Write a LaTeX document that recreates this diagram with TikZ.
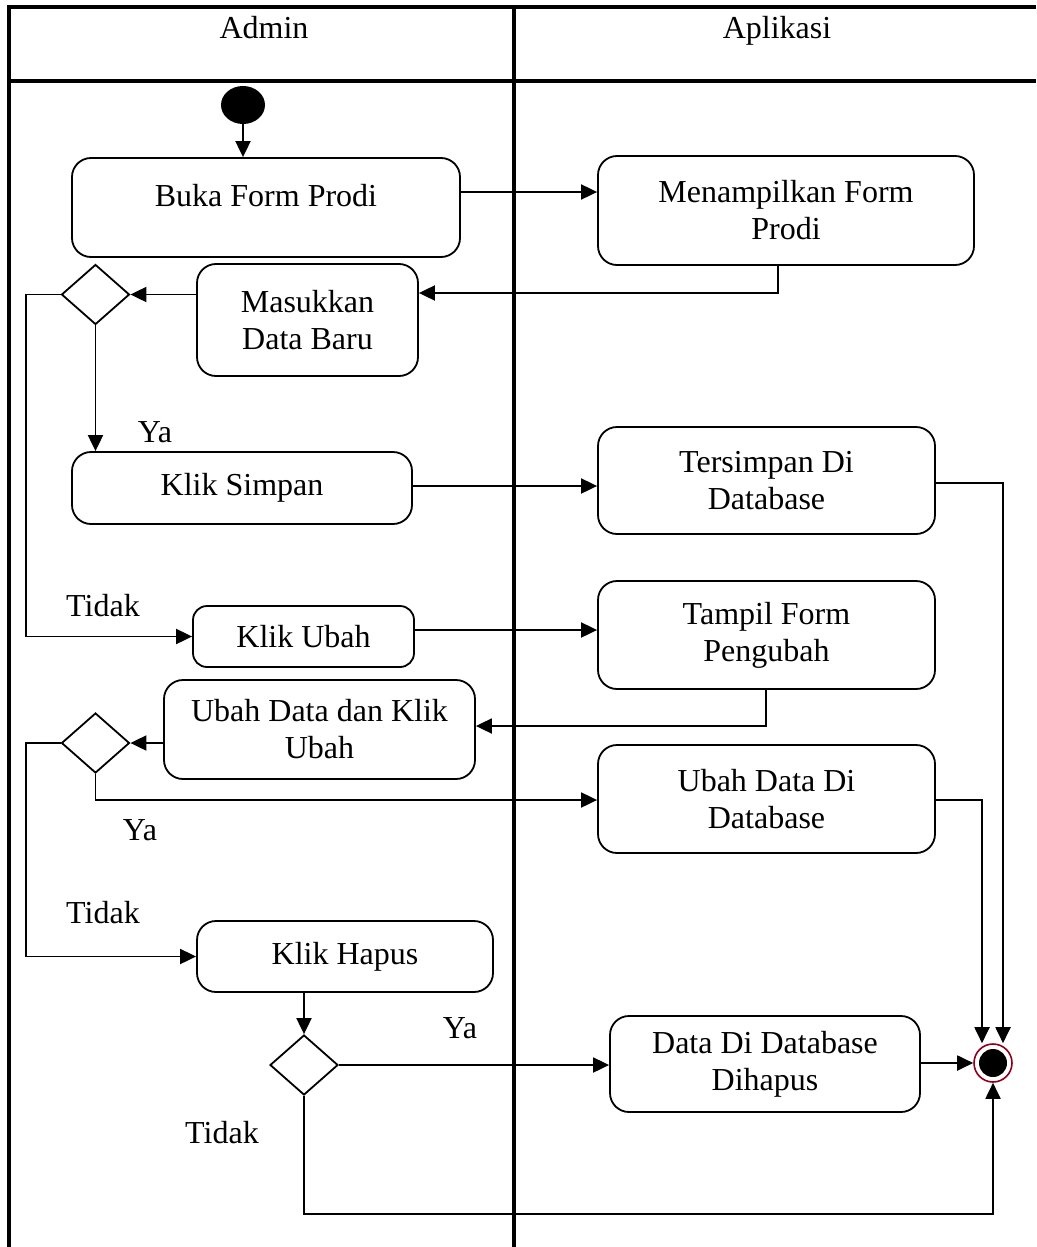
\documentclass[tikz,border=0pt]{standalone}
\usepackage{fontspec}
\setmainfont{Liberation Serif}
\usetikzlibrary{arrows.meta,shapes.geometric}
\definecolor{endred}{RGB}{140,0,30}
\begin{document}
\begin{tikzpicture}[x=1pt,y=-1pt,
  every node/.style={font=\fontsize{32}{37}\selectfont},
  act/.style={draw,line width=1.8pt,rounded corners=19pt,inner sep=0pt,align=center},
  choice/.style={draw,diamond,line width=1.8pt,inner sep=0pt,minimum width=68pt,minimum height=60pt},
  flow/.style={line width=1.9pt,-{Triangle[length=16pt,width=15pt]}},
  frame/.style={line width=3.2pt},
  lbl/.style={inner sep=0pt}]
\useasboundingbox (0,0) rectangle (1036,1247);

% swimlane frame
\draw[frame] (9,1247) -- (9,7) -- (1036,7);
\draw[frame] (9,81) -- (1036,81);
\draw[frame] (514,7) -- (514,1247);
\node[anchor=base] (hadmin) at (264,39) {Admin};
\node[anchor=base] (happ) at (777,39) {Aplikasi};

% start and end
\node[ellipse,fill=black,minimum width=44pt,minimum height=38pt,inner sep=0pt] (start) at (243,105) {};
\node[circle,draw=endred,line width=1.6pt,fill=white,minimum size=38pt,inner sep=0pt] (fin) at (993,1063) {};
\fill[black] (fin.center) circle (14pt);

% activities
\node[act,minimum width=388pt,minimum height=99pt,text height=22pt,text depth=25pt] (buka) at (266,207.5) {Buka Form Prodi};
\node[act,minimum width=376pt,minimum height=109pt] (men) at (786,210.5) {Menampilkan Form\\Prodi};
\node[act,minimum width=221pt,minimum height=112pt] (mas) at (307.5,320) {Masukkan\\Data Baru};
\node[act,minimum width=340pt,minimum height=72pt] (simpan) at (242,488) {Klik Simpan};
\node[act,minimum width=337pt,minimum height=107pt] (ts) at (766.5,480.5) {Tersimpan Di\\Database};
\node[act,minimum width=221pt,minimum height=61pt,rounded corners=14pt] (kubah) at (303.5,636.5) {Klik Ubah};
\node[act,minimum width=337pt,minimum height=108pt] (tampil) at (766.5,635) {Tampil Form\\Pengubah};
\node[act,minimum width=311pt,minimum height=99pt] (ud) at (319.5,729.5) {Ubah Data dan Klik\\Ubah};
\node[act,minimum width=337pt,minimum height=108pt] (udd) at (766.5,799) {Ubah Data Di\\Database};
\node[act,minimum width=296pt,minimum height=71pt] (hapus) at (345,956.5) {Klik Hapus};
\node[act,minimum width=310pt,minimum height=96pt] (del) at (765,1064) {Data Di Database\\Dihapus};

% decisions
\node[choice] (d1) at (95.5,294.5) {};
\node[choice] (d2) at (95.5,743) {};
\node[choice] (d3) at (304,1065) {};

% guard labels
\node[lbl] (ya1) at (155,432) {Ya};
\node[lbl] (td1) at (103,606) {Tidak};
\node[lbl] (ya2) at (140,830) {Ya};
\node[lbl] (td2) at (103,913) {Tidak};
\node[lbl] (ya3) at (460,1028) {Ya};
\node[lbl] (td3) at (222,1133) {Tidak};

% control flow
\draw[flow] (start.south) -- (start.south |- buka.north);
\draw[flow] (buka.east |- 0,192) -- (men.west |- 0,192);
\draw[flow] (men.south -| 778,0) |- (mas.east |- 0,293);
\draw[flow] (mas.west |- d1.east) -- (d1.east);
\draw[flow] (d1.south) -- (d1.south |- simpan.north);
\draw[flow] (d1.west) -- ++(-35,0) |- (kubah.west);
\draw[flow] (simpan.east |- 0,486) -- (ts.west |- 0,486);
\draw[flow] (ts.east |- 0,483) -| ([xshift=10pt]fin.north);
\draw[flow] (kubah.east |- 0,630) -- (tampil.west |- 0,630);
\draw[flow] (tampil.south -| 766,0) |- (ud.east |- 0,726);
\draw[flow] (ud.west |- d2.east) -- (d2.east);
\draw[flow] (d2.south) |- (udd.west |- 0,800);
\draw[flow] (udd.east |- 0,800) -| ([xshift=-11pt]fin.north);
\draw[flow] (d2.west) -- ++(-35,0) |- (hapus.west);
\draw[flow] (d3.north |- hapus.south) -- (d3.north);
\draw[flow] (d3.east) -- (d3.east -| del.west);
\draw[flow] (del.east |- fin.west) -- (fin.west);
\draw[flow] (d3.south) -- (d3.south |- 0,1214) -| (fin.south);
\end{tikzpicture}
\end{document}
